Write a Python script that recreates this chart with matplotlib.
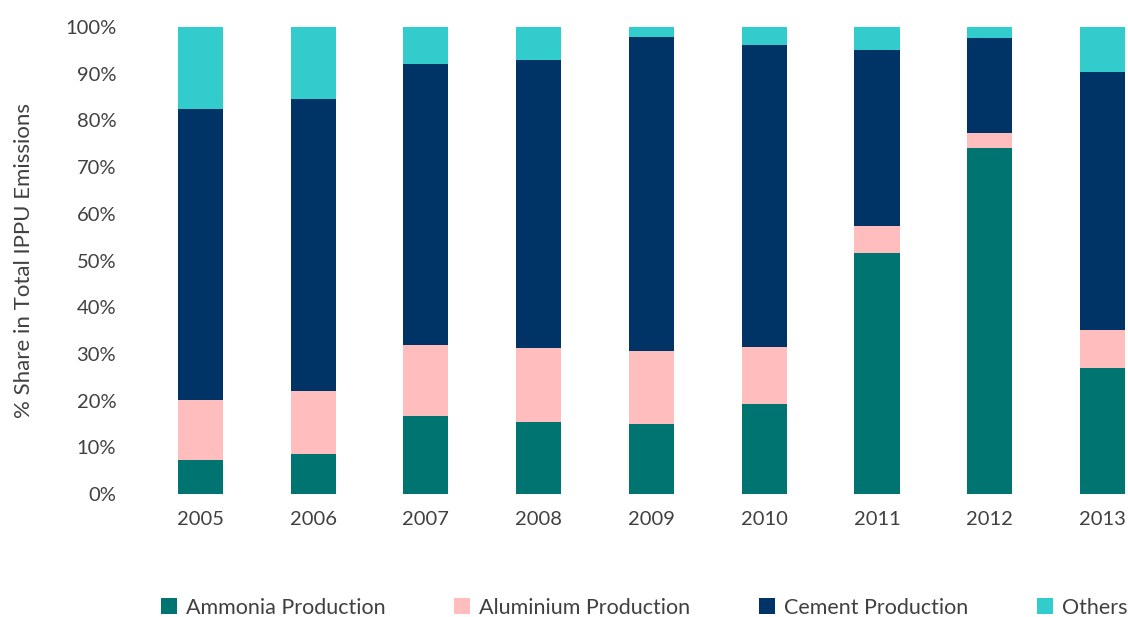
import matplotlib.pyplot as plt
import numpy as np

plt.rcParams['font.family'] = ['Lato', 'DejaVu Sans']

years = ['2005', '2006', '2007', '2008', '2009', '2010', '2011', '2012', '2013']
ammonia = [7.3, 8.6, 16.7, 15.4, 15.0, 19.3, 51.6, 74.1, 27.0]
aluminium = [12.8, 13.5, 15.2, 15.9, 15.6, 12.2, 5.8, 3.2, 8.1]
cement = [62.3, 62.5, 60.2, 61.6, 67.3, 64.6, 37.7, 20.3, 55.3]
others = [17.6, 15.4, 7.9, 7.1, 2.1, 3.9, 4.9, 2.4, 9.6]

series = [
    ('Ammonia Production', ammonia, '#007470'),
    ('Aluminium Production', aluminium, '#FFBDBD'),
    ('Cement Production', cement, '#003366'),
    ('Others', others, '#33CCCC'),
]

fig = plt.figure(figsize=(11.28, 6.17), dpi=100)
ax = fig.add_axes([144 / 1128, (617 - 494) / 617, (1128 - 144) / 1128, 467 / 617])

x = np.arange(len(years))
bottom = np.zeros(len(years))
for name, vals, col in series:
    v = np.array(vals) / 100.0
    ax.bar(x, v, 0.4, bottom=bottom, color=col, label=name, edgecolor='none')
    bottom += v

ax.set_xlim(-0.5, 8.226)
ax.set_ylim(0, 1)
ticks = np.arange(0, 1.01, 0.1)
ax.set_yticks(ticks)
ax.set_yticklabels([f'{int(round(t * 100))}%' for t in ticks])
ax.set_xticks(x)
ax.set_xticklabels(years)
ax.tick_params(length=0, labelsize=14.5, labelcolor='#404040', pad=12)
ax.tick_params(axis='y', pad=20)
for s in ax.spines.values():
    s.set_visible(False)
ax.set_ylabel('% Share in Total IPPU Emissions', fontsize=16, color='#404040', labelpad=22)

fig.legend(loc='center', bbox_to_anchor=(0.571, 0.015), ncol=4, frameon=False,
           fontsize=15.5, labelcolor='#404040', handlelength=0.75, handleheight=0.75,
           handletextpad=0.4, columnspacing=3.2)

fig.savefig('out.png', dpi=100)
